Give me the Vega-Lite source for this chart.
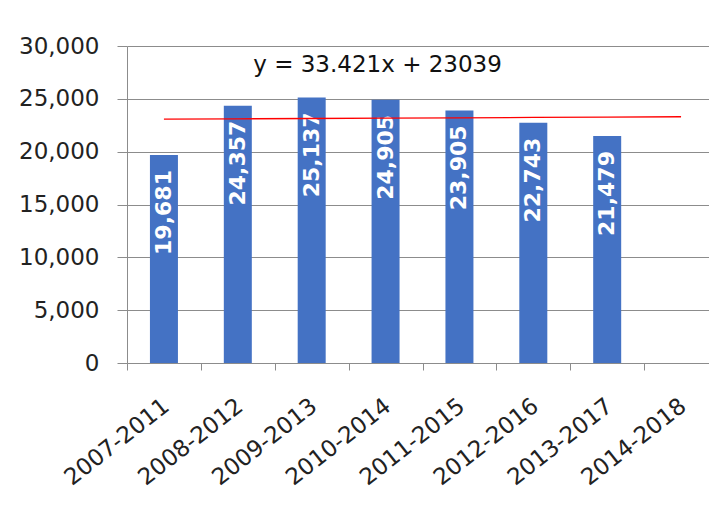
{
  "$schema": "https://vega.github.io/schema/vega-lite/v6.json",
  "width": 591,
  "height": 317,
  "autosize": "none",
  "padding": {"left": 127, "top": 46, "right": -9, "bottom": 157},
  "background": "white",
  "config": {"view": {"stroke": null}, "font": "DejaVu Sans"},
  "data": {
    "values": [
      {"period": "2007-2011", "value": 19681, "trend": 23072},
      {"period": "2008-2012", "value": 24357, "trend": 23106},
      {"period": "2009-2013", "value": 25137, "trend": 23139},
      {"period": "2010-2014", "value": 24905, "trend": 23173},
      {"period": "2011-2015", "value": 23905, "trend": 23206},
      {"period": "2012-2016", "value": 22743, "trend": 23240},
      {"period": "2013-2017", "value": 21479, "trend": 23273},
      {"period": "2014-2018", "value": null, "trend": 23306}
    ]
  },
  "encoding": {
    "x": {
      "field": "period",
      "type": "nominal",
      "sort": null,
      "scale": {"paddingInner": 0, "paddingOuter": 0},
      "axis": {
        "title": null,
        "labelAngle": -38,
        "labelAlign": "right",
        "labelBaseline": "middle",
        "labelFont": "DejaVu Sans",
        "labelFontSize": 23,
        "labelColor": "#222222",
        "labelPadding": 33,
        "labelOffset": 2,
        "labelOverlap": false,
        "tickSize": 7,
        "tickBand": "extent",
        "tickColor": "#8c8c8c",
        "domainColor": "#8c8c8c",
        "grid": false
      }
    }
  },
  "layer": [
    {
      "mark": {"type": "bar", "size": 28, "color": "#4472C4"},
      "encoding": {
        "y": {
          "field": "value",
          "type": "quantitative",
          "scale": {"domain": [0, 30000], "nice": false},
          "axis": {
            "title": null,
            "values": [0, 5000, 10000, 15000, 20000, 25000, 30000],
            "format": ",.0f",
            "labelFont": "DejaVu Sans",
            "labelFontSize": 23,
            "labelColor": "#222222",
            "labelPadding": 18,
            "tickSize": 10,
            "tickColor": "#8c8c8c",
            "domainColor": "#8c8c8c",
            "gridColor": "#8c8c8c",
            "grid": true
          }
        }
      }
    },
    {
      "transform": [{"filter": "datum.value != null"}],
      "mark": {
        "type": "text",
        "angle": 270,
        "align": "right",
        "baseline": "middle",
        "dx": -15,
        "font": "DejaVu Sans",
        "fontWeight": "bold",
        "fontSize": 22,
        "color": "white"
      },
      "encoding": {
        "y": {"field": "value", "type": "quantitative"},
        "text": {"field": "value", "type": "quantitative", "format": ",.0f"}
      }
    },
    {
      "mark": {"type": "line", "color": "#FF0000", "strokeWidth": 1.3},
      "encoding": {
        "y": {"field": "trend", "type": "quantitative"}
      }
    },
    {
      "data": {"values": [{"label": "y = 33.421x + 23039"}]},
      "mark": {
        "type": "text",
        "align": "center",
        "baseline": "middle",
        "dx": -8,
        "font": "DejaVu Sans",
        "fontSize": 23,
        "color": "#111111"
      },
      "encoding": {
        "x": {"datum": "2010-2014"},
        "y": {"datum": 28200},
        "text": {"field": "label"}
      }
    }
  ]
}
